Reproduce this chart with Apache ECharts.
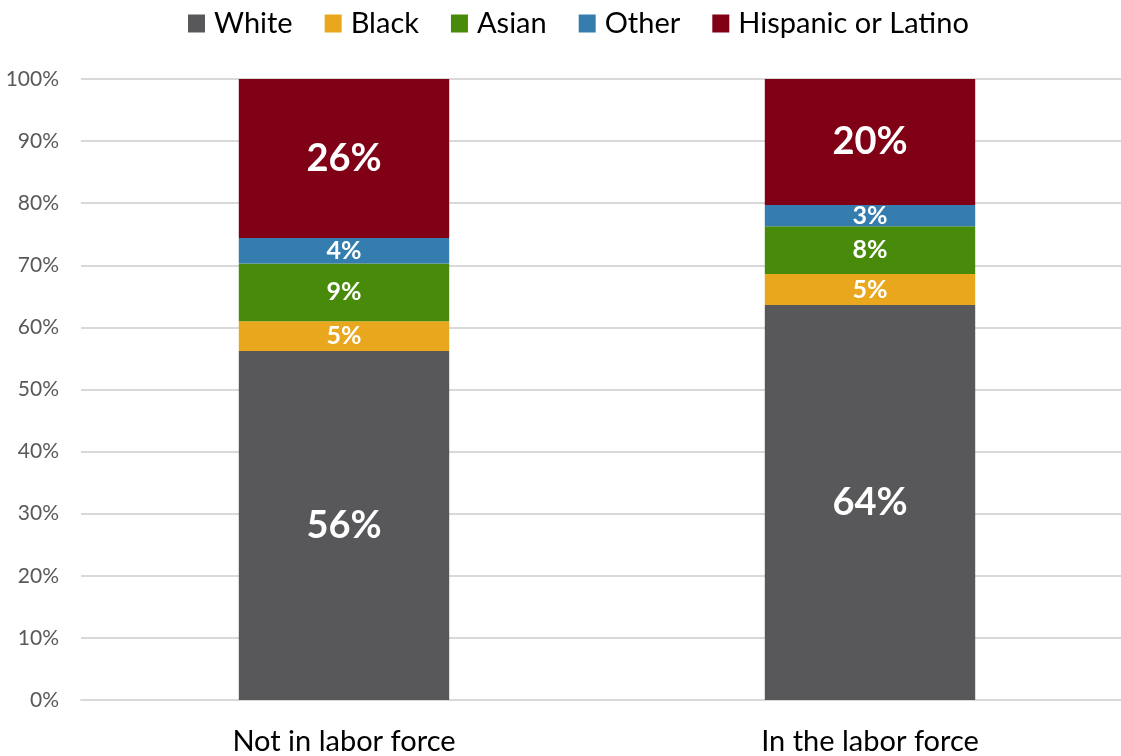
<!DOCTYPE html>
<html><head><meta charset="utf-8">
<script src="https://cdn.jsdelivr.net/npm/echarts@6/dist/echarts.min.js"></script>
<style>html,body{margin:0;padding:0;background:#fff}#c{width:1121px;height:756px}</style>
</head><body><div id="c"></div>
<script>
const categories = ['Not in labor force', 'In the labor force'];
const seriesNames = ['White', 'Black', 'Asian', 'Other', 'Hispanic or Latino'];
const white = [56.2, 63.6];
const black = [4.8, 5.0];
const asian = [9.3, 7.7];
const other = [4.1, 3.4];
const hispanic = [25.6, 20.3];
const colors = ['#58585B', '#E8A71C', '#488B0B', '#357DAE', '#800016'];
const labelSizes = [38, 25, 25, 25, 38];
const values = [white, black, asian, other, hispanic];
const FONT = 'Lato, "Open Sans", sans-serif';

const chart = echarts.init(document.getElementById('c'));
chart.setOption({
  animation: false,
  legend: {
    top: 4, left: 183, itemWidth: 17, itemHeight: 18, itemGap: 32,
    icon: 'rect',
    textStyle: {fontFamily: FONT, fontSize: 29, color: '#000', padding: [0, 0, 0, 4]},
    data: seriesNames
  },
  grid: {left: 81, top: 79, width: 1052, height: 621, containLabel: false, outerBoundsMode: 'none'},
  xAxis: {
    type: 'category', data: categories,
    axisLine: {lineStyle: {color: '#d9d9d9', width: 2}},
    axisTick: {show: false},
    axisLabel: {fontFamily: FONT, fontSize: 29, color: '#000', margin: 27}
  },
  yAxis: {
    type: 'value', min: 0, max: 100, interval: 10,
    axisLabel: {formatter: '{value}%', fontFamily: FONT, fontSize: 21, color: '#595959', margin: 22},
    splitLine: {lineStyle: {color: '#d9d9d9', width: 2}},
    axisLine: {show: false}, axisTick: {show: false}
  },
  series: seriesNames.map((n, i) => ({
    name: n, type: 'bar', stack: 'total', barWidth: '40%',
    data: values[i],
    itemStyle: {color: colors[i]},
    label: {
      show: true, position: 'inside', color: '#fff', fontWeight: 'bold',
      fontFamily: FONT, fontSize: labelSizes[i],
      formatter: p => Math.round(p.value) + '%'
    }
  }))
});
</script></body></html>
